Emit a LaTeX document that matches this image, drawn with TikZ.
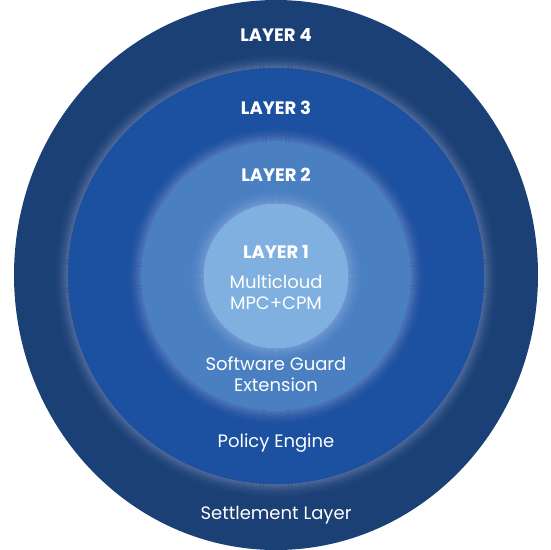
\documentclass[tikz,border=0pt]{standalone}
\usepackage{fontspec}
\setmainfont{Poppins}
\definecolor{ringfour}{HTML}{1A4075}
\definecolor{ringthree}{HTML}{1C50A0}
\definecolor{ringtwo}{HTML}{4A80C2}
\definecolor{ringone}{HTML}{80B0E0}
\definecolor{glowc}{HTML}{C4C4EE}
\tikzset{
  layertitle/.style={text=white,font=\bfseries\fontsize{18}{21}\selectfont,inner sep=0pt},
  layerlabel/.style={text=white,font=\fontsize{18}{20.4}\selectfont,align=center,inner sep=0pt},
}
\newcommand{\glowring}[3]{% center x, center y, radius
  \foreach \i in {1,...,16}{
    \pgfmathsetmacro{\op}{0.30*(1-\i/17)^2}
    \draw[glowc,line width=1.1pt,opacity=\op] (#1,#2) circle [radius=#3pt+\i pt-0.5pt];
  }
}
\begin{document}
\begin{tikzpicture}[x=1pt,y=-1pt]
\useasboundingbox (0,0) rectangle (550,550);
\fill[ringfour] (276,275) circle [x radius=262pt, y radius=275pt];
\glowring{276}{276}{208}
\fill[ringthree] (276,276) circle [radius=208pt];
\glowring{276}{276}{135}
\fill[ringtwo] (276,276) circle [radius=135pt];
\glowring{276}{276}{72.5}
\fill[ringone] (276,276) circle [radius=72.5pt];

\node[layertitle] (l4) at (276,35) {LAYER 4};
\node[layertitle] (l3) at (276,108) {LAYER 3};
\node[layertitle] (l2) at (276,175) {LAYER 2};
\node[layertitle] (l1) at (276,252) {LAYER 1};
\node[layerlabel] (mc) at (276,292) {Multicloud\\MPC+CPM};
\node[layerlabel] (sg) at (276,374) {Software Guard\\Extension};
\node[layerlabel] (pe) at (276,443) {Policy Engine};
\node[layerlabel] (sl) at (276,515) {Settlement Layer};
\end{tikzpicture}
\end{document}
